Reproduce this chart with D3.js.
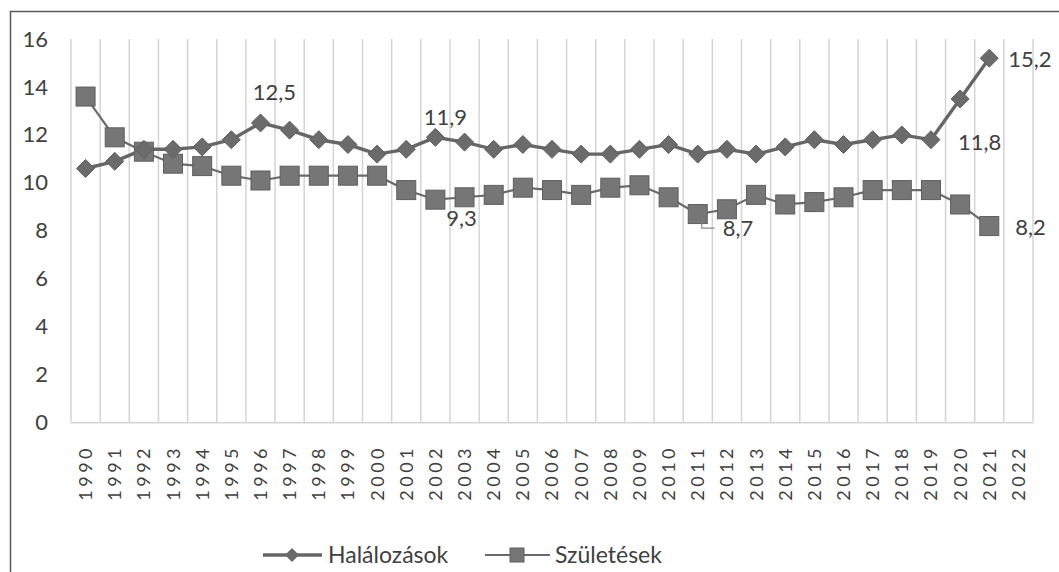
<!DOCTYPE html>
<html>
<head>
<meta charset="utf-8">
<script src="https://cdn.jsdelivr.net/npm/d3@7"></script>
<style>
  html, body { margin: 0; padding: 0; background: #fff; }
  svg { display: block; }
  text { font-family: Lato, "Open Sans", sans-serif; fill: #404040; }
</style>
</head>
<body>
<svg id="chart" width="1059" height="572"></svg>
<script>
const years = d3.range(1990, 2023).map(String);
const halalozasok = [10.6, 10.9, 11.4, 11.4, 11.5, 11.8, 12.5, 12.2, 11.8, 11.6,
  11.2, 11.4, 11.9, 11.7, 11.4, 11.6, 11.4, 11.2, 11.2, 11.4,
  11.6, 11.2, 11.4, 11.2, 11.5, 11.8, 11.6, 11.8, 12.0, 11.8,
  13.5, 15.2, null];
const szuletesek = [13.6, 11.9, 11.3, 10.8, 10.7, 10.3, 10.1, 10.3, 10.3, 10.3,
  10.3, 9.7, 9.3, 9.4, 9.5, 9.8, 9.7, 9.5, 9.8, 9.9,
  9.4, 8.7, 8.9, 9.5, 9.1, 9.2, 9.4, 9.7, 9.7, 9.7,
  9.1, 8.2, null];
const yTicks = [0, 2, 4, 6, 8, 10, 12, 14, 16];
const seriesNames = ["Halálozások", "Születések"];

const svg = d3.select("#chart");
const FONT = "Lato, 'Open Sans', sans-serif";

// outer frame
svg.append("rect").attr("x", 10.5).attr("y", 11.5).attr("width", 1100).attr("height", 700)
  .attr("fill", "none").attr("stroke", "#595959").attr("stroke-width", 1.5);

const x = d3.scaleBand().domain(years).range([71, 1033]).padding(0);
const y = d3.scaleLinear().domain([0, 16]).range([422.7, 39]);
const cx = d => x(d) + x.bandwidth() / 2;

// vertical gridlines at category boundaries
const edges = years.map(d => x(d)).concat([x.range()[1]]);
svg.append("g").selectAll("line").data(edges).join("line")
  .attr("x1", d => d).attr("x2", d => d)
  .attr("y1", y(16)).attr("y2", y(0))
  .attr("stroke", "#d4d4d4").attr("stroke-width", 1.5);
// baseline
svg.append("line").attr("x1", x.range()[0]).attr("x2", x.range()[1])
  .attr("y1", y(0)).attr("y2", y(0)).attr("stroke", "#d4d4d4").attr("stroke-width", 1.5);

// y axis labels
const yAxis = d3.axisLeft(y).tickValues(yTicks).tickSize(0).tickPadding(0);
const gy = svg.append("g").attr("transform", "translate(48,0)").call(yAxis);
gy.select(".domain").remove();
gy.selectAll("text").attr("font-size", 22).attr("fill", "#404040").style("font-family", FONT);

// x axis labels (rotated)
const xAxis = d3.axisBottom(x).tickSize(0).tickPadding(0);
const gx = svg.append("g").attr("transform", `translate(0,${y(0)})`).call(xAxis);
gx.select(".domain").remove();
gx.selectAll("text")
  .attr("font-size", 18).attr("fill", "#404040")
  .style("font-family", FONT)
  .style("letter-spacing", "3.5px")
  .attr("text-anchor", "start")
  .attr("dy", "0.36em")
  .attr("y", 0)
  .attr("transform", "translate(0,78) rotate(-90)");

// lines
const lineGen = d3.line().defined(d => d.v != null).x(d => cx(d.year)).y(d => y(d.v));
const hData = years.map((yr, i) => ({ year: yr, v: halalozasok[i] }));
const sData = years.map((yr, i) => ({ year: yr, v: szuletesek[i] }));

svg.append("path").datum(sData).attr("d", lineGen)
  .attr("fill", "none").attr("stroke", "#6a6a6a").attr("stroke-width", 2.2);
svg.append("path").datum(hData).attr("d", lineGen)
  .attr("fill", "none").attr("stroke", "#666666").attr("stroke-width", 3.4);

// square markers
const sq = 19;
svg.append("g").selectAll("rect").data(sData.filter(d => d.v != null)).join("rect")
  .attr("x", d => cx(d.year) - sq / 2).attr("y", d => y(d.v) - sq / 2)
  .attr("width", sq).attr("height", sq)
  .attr("fill", "#767676").attr("stroke", "#5e5e5e").attr("stroke-width", 1);

// diamond markers
const dm = 9;
svg.append("g").selectAll("path").data(hData.filter(d => d.v != null)).join("path")
  .attr("d", d => {
    const px = cx(d.year), py = y(d.v);
    return `M${px},${py - dm}L${px + dm},${py}L${px},${py + dm}L${px - dm},${py}Z`;
  })
  .attr("fill", "#6b6b6b").attr("stroke", "#5e5e5e").attr("stroke-width", 1);

// data labels
const fmt = v => v.toFixed(1).replace(".", ",");
const hVal = yr => halalozasok[years.indexOf(yr)];
const sVal = yr => szuletesek[years.indexOf(yr)];
const lab = svg.append("g").attr("font-size", 22).attr("fill", "#404040");
// Halálozások labels
lab.append("text").attr("x", cx("1996") + 14).attr("y", y(hVal("1996")) - 23).attr("text-anchor", "middle").text(fmt(hVal("1996")));
lab.append("text").attr("x", cx("2002") + 10).attr("y", y(hVal("2002")) - 12).attr("text-anchor", "middle").text(fmt(hVal("2002")));
lab.append("text").attr("x", cx("2019") + 27).attr("y", y(hVal("2019")) + 10).attr("text-anchor", "start").text(fmt(hVal("2019")));
lab.append("text").attr("x", cx("2021") + 19).attr("y", y(hVal("2021")) + 9).attr("text-anchor", "start").text(fmt(hVal("2021")));
// Születések labels
lab.append("text").attr("x", cx("2002") + 26).attr("y", y(sVal("2002")) + 26).attr("text-anchor", "middle").text(fmt(sVal("2002")));
lab.append("text").attr("x", cx("2011") + 25).attr("y", y(sVal("2011")) + 22).attr("text-anchor", "start").text(fmt(sVal("2011")));
lab.append("text").attr("x", cx("2021") + 26).attr("y", y(sVal("2021")) + 9).attr("text-anchor", "start").text(fmt(sVal("2021")));
// leader line for 8,7
const lx = cx("2011"), ly = y(sVal("2011"));
svg.append("path").attr("d", `M${lx + 4},${ly + 9}L${lx + 4},${ly + 14}L${lx + 17},${ly + 14}`)
  .attr("fill", "none").attr("stroke", "#8a8a8a").attr("stroke-width", 1.2);

// legend
const lg = svg.append("g");
const legY = 555;
lg.append("line").attr("x1", 263).attr("x2", 322).attr("y1", legY).attr("y2", legY)
  .attr("stroke", "#666").attr("stroke-width", 3.4);
lg.append("path").attr("d", `M292,${legY - 7}L299,${legY}L292,${legY + 7}L285,${legY}Z`)
  .attr("fill", "#6b6b6b");
lg.append("text").attr("x", 328).attr("y", legY).attr("dy", "0.35em").attr("font-size", 23).text(seriesNames[0]);
lg.append("line").attr("x1", 485).attr("x2", 550).attr("y1", legY).attr("y2", legY)
  .attr("stroke", "#6a6a6a").attr("stroke-width", 2.2);
lg.append("rect").attr("x", 510).attr("y", legY - 7).attr("width", 14).attr("height", 14)
  .attr("fill", "#767676").attr("stroke", "#5e5e5e");
lg.append("text").attr("x", 555).attr("y", legY).attr("dy", "0.35em").attr("font-size", 23).text(seriesNames[1]);
</script>
</body>
</html>
